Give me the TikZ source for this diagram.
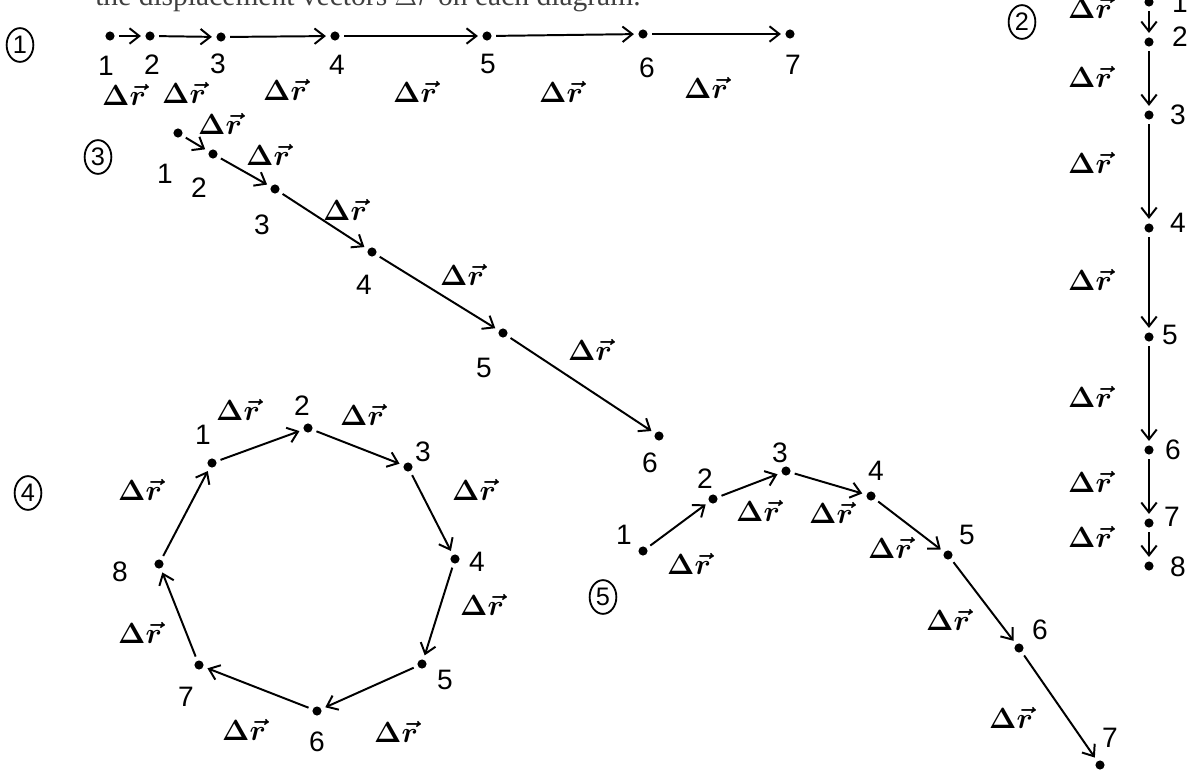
\documentclass[tikz,border=0pt]{standalone}
\usepackage{fontspec}
\setmainfont{Liberation Sans}
\newfontfamily\printfont{Liberation Serif}
\usetikzlibrary{arrows.meta,positioning,calc,shapes.geometric}

\tikzset{
  pt/.style={circle, fill, inner sep=0pt, minimum size=6.5pt},
  vec/.style={->, line width=1.4pt, shorten >=3pt, shorten <=3pt},
  num/.style={font=\fontsize{20}{20}\selectfont},
  dr/.style={font=\fontsize{20}{20}\selectfont\boldmath},
  tag/.style={draw, ellipse, line width=1.3pt, inner sep=0pt, minimum width=19pt, minimum height=24pt, font=\fontsize{18}{18}\selectfont}
}
\newcommand{\dr}{$\Delta\vec{r}$}

\begin{document}
\begin{tikzpicture}[x=0.025cm, y=-0.025cm, >={Straight Barb[length=7pt,width=11pt]}]
  \useasboundingbox (0,0) rectangle (1192,771);
  \clip (0,0) rectangle (1192,771);

  % printed line, cut at the top of the page
  \node[anchor=base west, inner sep=0pt, text=black!75, font=\printfont\fontsize{21}{21}\selectfont] (caption) at (95,5)
    {the displacement vectors $\Delta\vec{r}$ on each diagram.};

  % 1: equal steps getting longer
  \node[tag] (tag1) at (20,45) {1};
  \foreach \n/\x/\y in {1/110/36,2/150/36,3/221/37,4/335/36,5/487/36,6/643/34,7/790/34}
    \node[pt] (a\n) at (\x,\y) {};
  \foreach \i/\j in {1/2,2/3,3/4,4/5,5/6,6/7}
    \draw[vec] (a\i) -- (a\j);
  \foreach \n/\x/\y in {1/106/66,2/152/65,3/218/64,4/337/65,5/488/64,6/647/68,7/793/65}
    \node[num] (la\n) at (\x,\y) {\n};
  \foreach \n/\x/\y in {1/124/95,2/184/93,3/285/90,4/415/92,5/561/92,6/706/88}
    \node[dr] (da\n) at (\x,\y) {\dr};

  % 2: falling straight down, slowing
  \node[tag] (tag2) at (1022,22) {2};
  \foreach \n/\y in {1/2,2/42,3/115,4/228,5/337,6/450,7/523,8/566}
    \node[pt] (b\n) at (1149,\y) {};
  \foreach \i/\j in {1/2,2/3,3/4,4/5,5/6,6/7,7/8}
    \draw[vec] (b\i) -- (b\j);
  \foreach \n/\x/\y in {1/1180/3,2/1180/37,3/1178/115,4/1178/223,5/1170/335,6/1173/450,7/1172/517,8/1178/567}
    \node[num] (lb\n) at (\x,\y) {\n};
  \foreach \n/\y in {1/8,2/77,3/163,4/280,5/397,6/482,7/537}
    \node[dr] (db\n) at (1090,\y) {\dr};

  % 3: down a slope, speeding up
  \node[tag] (tag3) at (98,157) {3};
  \foreach \n/\x/\y in {1/178/133,2/213/154,3/275/189,4/372/252,5/503/333,6/659/436}
    \node[pt] (c\n) at (\x,\y) {};
  \foreach \i/\j in {1/2,2/3,3/4,4/5,5/6}
    \draw[vec] (c\i) -- (c\j);
  \foreach \n/\x/\y in {1/165/174,2/199/188,3/262/225,4/364/285,5/484/368,6/650/463}
    \node[num] (lc\n) at (\x,\y) {\n};
  \foreach \n/\x/\y in {1/220/124,2/268/155,3/345/210,4/462/275,5/590/350}
    \node[dr] (dc\n) at (\x,\y) {\dr};

  % 4: round a circle
  \node[tag] (tag4) at (28,493) {4};
  \foreach \n/\x/\y in {1/212/463,2/308/428,3/408/467,4/455/559,5/422/664,6/317/711,7/199/665,8/159/564}
    \node[pt] (d\n) at (\x,\y) {};
  \foreach \i/\j in {1/2,2/3,3/4,4/5,5/6,6/7,7/8,8/1}
    \draw[vec] (d\i) -- (d\j);
  \foreach \n/\x/\y in {1/203/435,2/302/406,3/423/452,4/477/562,5/445/680,6/317/742,7/186/697,8/120/572}
    \node[num] (ld\n) at (\x,\y) {\n};
  \foreach \n/\x/\y in {1/238/410,2/362/415,3/474/490,4/482/605,5/396/732,6/244/730,7/140/633,8/140/490}
    \node[dr] (dd\n) at (\x,\y) {\dr};

  % 5: thrown, up then down
  \node[tag] (tag5) at (603,597) {5};
  \foreach \n/\x/\y in {1/643/551,2/713/499,3/786/471,4/871/496,5/948/555,6/1019/648,7/1100/765}
    \node[pt] (e\n) at (\x,\y) {};
  \foreach \i/\j in {1/2,2/3,3/4,4/5,5/6,6/7}
    \draw[vec] (e\i) -- (e\j);
  \foreach \n/\x/\y in {1/624/535,2/705/479,3/780/453,4/876/471,5/967/535,6/1040/630,7/1110/738}
    \node[num] (le\n) at (\x,\y) {\n};
  \foreach \n/\x/\y in {1/689/564,2/758/511,3/831/513,4/890/548,5/948/620,6/1011/718}
    \node[dr] (de\n) at (\x,\y) {\dr};
\end{tikzpicture}
\end{document}
